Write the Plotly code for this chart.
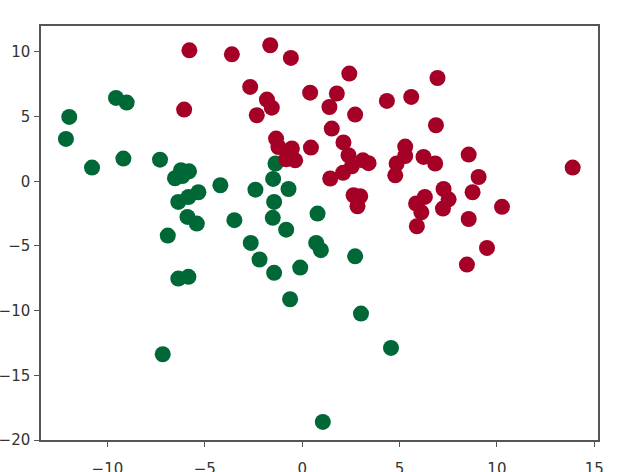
import plotly.graph_objects as go

red_x = [-5.79, -3.61, -1.64, -0.58, -2.67, -1.81, -1.56, -2.33, -6.06, 0.41,
         -1.34, -1.22, -0.53, 0.45, -0.82, -0.36, 2.42, 6.95, 1.78, 1.40,
         2.72, 4.35, 5.60, 1.52, 6.87, 2.12, 2.38, 3.12, 3.41, 2.55,
         2.10, 1.44, 5.29, 5.29, 4.85, 4.78, 6.23, 6.83, 8.55, 9.06,
         13.89, 8.75, 10.26, 7.26, 7.52, 7.23, 6.30, 5.85, 6.12, 5.89,
         8.55, 2.64, 2.98, 2.84, 8.46, 9.49]
red_y = [10.12, 9.81, 10.51, 9.53, 7.29, 6.31, 5.69, 5.10, 5.54, 6.85,
         3.30, 2.65, 2.53, 2.60, 1.70, 1.62, 8.32, 7.98, 6.78, 5.74,
         5.15, 6.21, 6.52, 4.07, 4.33, 3.00, 2.01, 1.62, 1.40, 1.15,
         0.65, 0.21, 2.68, 1.95, 1.37, 0.46, 1.88, 1.37, 2.06, 0.33,
         1.06, -0.85, -1.98, -0.60, -1.40, -2.11, -1.21, -1.72, -2.40, -3.48,
         -2.92, -1.08, -1.16, -1.93, -6.44, -5.15]

green_x = [-11.96, -12.13, -10.79, -9.56, -9.01, -9.18, -7.30, -6.53, -6.22, -5.81,
           -6.15, -4.20, -5.33, -5.84, -6.36, -5.89, -5.41, -3.48, -2.40, -1.49,
           -1.37, -0.70, -1.44, -1.51, -0.82, -6.90, -2.64, -2.19, -1.44, -0.10,
           -0.62, -6.36, -5.84, -7.16, 0.72, 0.96, 2.72, 3.02, 4.56, 1.06, 0.79]
green_y = [4.97, 3.27, 1.06, 6.44, 6.08, 1.75, 1.67, 0.23, 0.85, 0.77,
           0.40, -0.31, -0.85, -1.22, -1.60, -2.76, -3.27, -3.01, -0.65, 0.18,
           1.37, -0.60, -1.60, -2.83, -3.74, -4.20, -4.77, -6.05, -7.08, -6.67,
           -9.12, -7.52, -7.39, -13.37, -4.77, -5.33, -5.80, -10.23, -12.88, -18.60, -2.50]

x_ticks = [-10, -5, 0, 5, 10, 15]
y_ticks = [-20, -15, -10, -5, 0, 5, 10]

fig = go.Figure()
fig.add_trace(go.Scatter(x=green_x, y=green_y, mode="markers",
                         marker=dict(size=16, color="#006837", line=dict(width=0)),
                         showlegend=False))
fig.add_trace(go.Scatter(x=red_x, y=red_y, mode="markers",
                         marker=dict(size=16, color="#a50026", line=dict(width=0)),
                         showlegend=False))

axis_common = dict(showgrid=False, zeroline=False, showline=True, mirror=True,
                   automargin=False,
                   linecolor="#555555", linewidth=1.5, ticks="outside", ticklen=5,
                   tickwidth=1.2, tickcolor="#555555",
                   tickfont=dict(family="DejaVu Sans", size=15, color="#333333"))

fig.update_layout(
    width=619, height=472,
    margin=dict(l=41, r=21, t=26, b=32),
    paper_bgcolor="white", plot_bgcolor="white",
    xaxis=dict(range=[-13.41, 15.19], tickvals=x_ticks, ticklabelstandoff=9, **axis_common),
    yaxis=dict(range=[-20, 12], tickvals=y_ticks, ticklabelstandoff=1, **axis_common),
)

fig.write_html("out.html", config={"displayModeBar": False},
               post_script="document.body.style.margin='0';")
